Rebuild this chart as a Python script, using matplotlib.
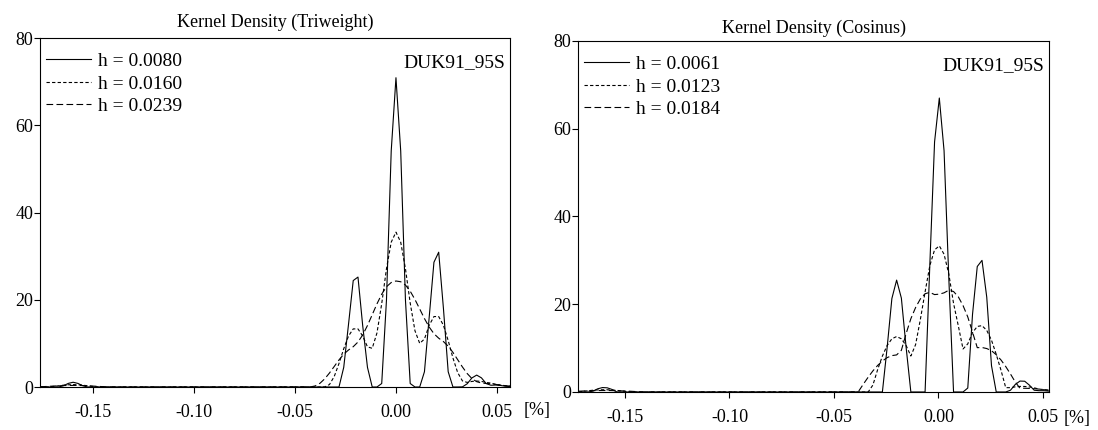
import matplotlib
matplotlib.use('Agg')
import matplotlib.pyplot as plt

plt.rcParams['font.family'] = ['Liberation Serif', 'DejaVu Serif']
plt.rcParams['axes.linewidth'] = 0.8

# ---- data ----
# left panel: triweight kernel, grid of evaluation points
tri_x = [-0.17625, -0.1739, -0.17155, -0.1692, -0.16685, -0.1645, -0.16215, -0.1598, -0.15745,
         -0.1551, -0.15275, -0.1504, -0.14805, -0.1457, -0.14335, -0.141, -0.13865, -0.1363,
         -0.0423, -0.03995, -0.0376, -0.03525, -0.0329, -0.03055, -0.0282, -0.02585, -0.0235,
         -0.02115, -0.0188, -0.01645, -0.0141, -0.01175, -0.0094, -0.00705, -0.0047, -0.00235,
         0.0, 0.00235, 0.0047, 0.00705, 0.0094, 0.01175, 0.0141, 0.01645, 0.0188, 0.02115,
         0.0235, 0.02585, 0.0282, 0.03055, 0.0329, 0.03525, 0.0376, 0.03995, 0.0423, 0.04465,
         0.047, 0.04935, 0.0517, 0.05405, 0.0564]
tri_h1 = [0, 0, 0, 0, 0.01, 0.31, 0.83, 1.09, 0.83, 0.31, 0.01, 0, 0, 0, 0, 0, 0, 0,
          0, 0, 0, 0, 0, 0, 0, 4.5, 14.3, 24.4, 25.2, 14.0, 4.5, 0, 0, 0.8, 19.9, 54.1,
          70.9, 54.1, 19.9, 0.8, 0, 0, 3.5, 16.0, 28.6, 30.9, 18.0, 3.5, 0, 0, 0.03, 0.74,
          2.08, 2.73, 2.1, 0.79, 0.4, 0.45, 0.35, 0.2, 0.1]
tri_h2 = [0, 0.006, 0.05, 0.15, 0.29, 0.42, 0.51, 0.55, 0.51, 0.42, 0.29, 0.15, 0.05, 0.006,
          0, 0, 0, 0,
          0, 0, 0, 0.01, 0.57, 2.41, 5.39, 8.77, 11.67, 13.32, 13.32, 11.67, 9.2, 8.87, 12.4,
          19.1, 27.1, 33.2, 35.5, 33.2, 27.1, 19.25, 12.9, 10.0, 11.0, 14.15, 16.15, 16.15,
          14.15, 10.65, 6.66, 3.3, 1.4, 1.05, 1.28, 1.37, 1.28, 1.04, 0.9, 0.6, 0.45, 0.3, 0.2]
tri_h3 = [0.053, 0.10, 0.16, 0.22, 0.28, 0.325, 0.355, 0.366, 0.355, 0.325, 0.28, 0.22, 0.16,
          0.10, 0.053, 0.02, 0.004, 0,
          0.02, 0.25, 0.86, 1.88, 3.21, 4.71, 6.21, 7.52, 8.48, 9.24, 10.31, 11.94, 14.10,
          16.57, 19.06, 21.28, 22.98, 23.95, 24.3, 24.13, 23.38, 21.96, 20.06, 17.89, 15.69,
          13.74, 12.22, 11.19, 10.41, 9.36, 7.93, 6.26, 4.59, 3.09, 1.93, 1.22, 0.91, 0.81,
          0.75, 0.6, 0.45, 0.3, 0.2]

# right panel: cosine kernel
cos_x = [-0.17212, -0.16985, -0.16758, -0.16531, -0.16304, -0.16077, -0.1585, -0.15623,
         -0.15396, -0.15169, -0.14942, -0.14715, -0.14488, -0.14261, -0.14034,
         -0.04046, -0.03819, -0.03592, -0.03365, -0.03138, -0.02911, -0.02684, -0.02457,
         -0.0223, -0.02003, -0.01776, -0.01549, -0.01322, -0.01095, -0.00868, -0.00641,
         -0.00414, -0.00187, 0.0004, 0.00267, 0.00494, 0.00721, 0.00948, 0.01175, 0.01402,
         0.01629, 0.01856, 0.02083, 0.0231, 0.02537, 0.02764, 0.02991, 0.03218, 0.03445,
         0.03672, 0.03899, 0.04126, 0.04353, 0.0458, 0.04807, 0.05034, 0.05261]
cos_h1 = [0, 0, 0, 0.2, 0.73, 1.01, 0.95, 0.58, 0.03, 0, 0, 0, 0, 0, 0,
          0, 0, 0, 0, 0, 0, 0, 10.1, 21.3, 25.5, 21.4, 10.2, 0, 0, 0, 0, 29, 57, 67, 55,
          26, 0, 0, 0, 0.9, 17.7, 28.6, 30.0, 21.6, 6.0, 0, 0, 0, 0.4, 1.7, 2.49, 2.45,
          1.55, 0.4, 0.3, 0.3, 0.2]
cos_h2 = [0.01, 0.16, 0.29, 0.4, 0.47, 0.51, 0.5, 0.45, 0.37, 0.25, 0.12, 0, 0, 0, 0,
          0, 0, 0, 0, 1.58, 5.1, 8.19, 10.6, 12.12, 12.64, 12.12, 10.6, 8.19, 10.8, 16.5,
          22.8, 28.8, 32.4, 33.3, 31.4, 26.9, 20.2, 15.1, 9.8, 10.97, 13.53, 14.94, 15.12,
          14.04, 11.8, 8.57, 4.97, 0.99, 0.98, 1.17, 1.27, 1.26, 1.15, 0.95, 0.66, 0.55, 0.4]
cos_h3 = [0.18, 0.23, 0.27, 0.30, 0.33, 0.34, 0.34, 0.32, 0.29, 0.26, 0.21, 0.16, 0.1, 0.03, 0,
          0, 0.19, 1.81, 3.37, 4.81, 6.05, 7.06, 7.83, 8.29, 8.45, 9.5, 13.3, 16.7, 19.25,
          21.2, 22.4, 22.7, 22.2, 22.3, 22.6, 23.2, 22.9, 21.7, 19.7, 17.1, 13.65, 10.1,
          10.14, 9.9, 9.4, 8.5, 7.3, 5.8, 4.1, 2.3, 0.85, 0.85, 0.81, 0.75, 0.66, 0.53, 0.40]

tri_labels = ['h = 0.0080', 'h = 0.0160', 'h = 0.0239']
cos_labels = ['h = 0.0061', 'h = 0.0123', 'h = 0.0184']
x_ticks = [-0.15, -0.10, -0.05, 0.00, 0.05]
x_tick_labels = ['-0.15', '-0.10', '-0.05', '0.00', '0.05']
y_ticks = [0, 20, 40, 60, 80]

styles = ['-', (0, (3, 2)), (0, (6, 3))]

fig = plt.figure(figsize=(10.98, 4.30), dpi=100)
ax1 = fig.add_axes([0.0364, 0.1, 0.428, 0.8116])
ax2 = fig.add_axes([0.5264, 0.0884, 0.429, 0.8163])

panels = [
    (ax1, tri_x, [tri_h1, tri_h2, tri_h3], tri_labels, 'Kernel Density (Triweight)',
     (-0.1762, 0.0564), (1.057, -0.066), 8),
    (ax2, cos_x, [cos_h1, cos_h2, cos_h3], cos_labels, 'Kernel Density (Cosinus)',
     (-0.1725, 0.0529), (1.059, -0.076), 6),
]

for ax, xs, ys, labels, title, xlim, unit_pos, tpad in panels:
    for y, ls, lab in zip(ys, styles, labels):
        ax.plot(xs, y, color='black', lw=0.8, ls=ls, label=lab)
    ax.set_xlim(*xlim)
    ax.set_ylim(0, 80)
    ax.set_xticks(x_ticks)
    ax.set_xticklabels(x_tick_labels)
    ax.set_yticks(y_ticks)
    ax.tick_params(direction='out', length=4, width=0.8, labelsize=13)
    ax.tick_params(axis='y', pad=1)
    ax.tick_params(axis='x', pad=8)
    ax.set_title(title, fontsize=13, pad=tpad)
    ax.text(0.99, 0.93, 'DUK91_95S', transform=ax.transAxes, ha='right', va='center',
            fontsize=14)
    ax.text(unit_pos[0], unit_pos[1], '[%]', transform=ax.transAxes, ha='center',
            va='center', fontsize=13, clip_on=False)
    ax.legend(loc='upper left', bbox_to_anchor=(0.0, 0.975), frameon=False, fontsize=14,
              handlelength=2.3, handletextpad=0.4, labelspacing=0.25, borderaxespad=0.1,
              borderpad=0.2)

fig.savefig('out.png', dpi=100)
